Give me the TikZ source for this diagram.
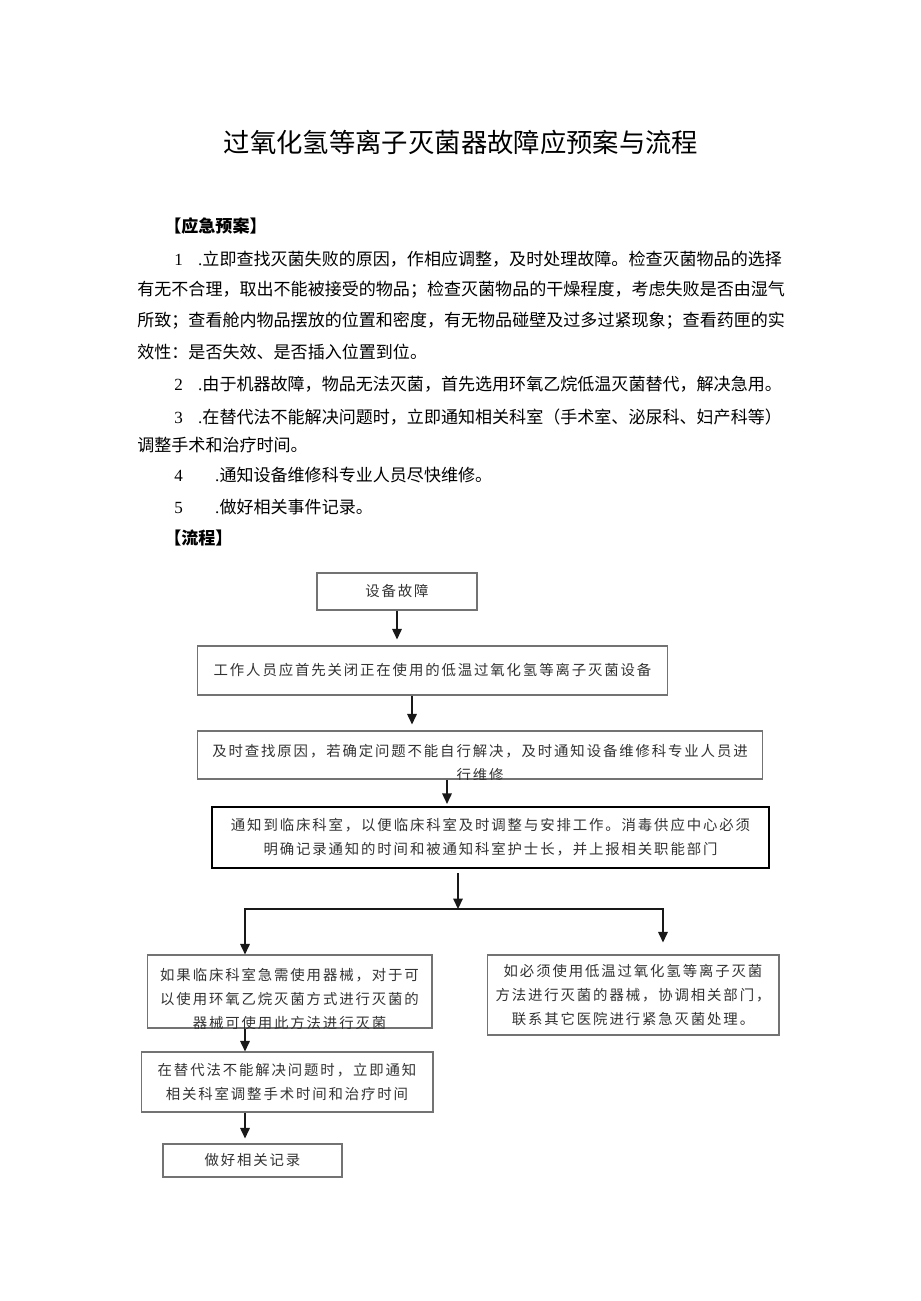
\documentclass[tikz,border=0pt]{standalone}
\usepackage{fontspec}
\setmainfont{Noto Sans CJK SC}
\newfontfamily\numfont{Liberation Serif}
\newfontfamily\flowfont[LetterSpace=13]{Noto Sans CJK SC}
\XeTeXlinebreaklocale "zh"
\XeTeXlinebreakskip=0pt plus 1pt minus 0.5pt
\usetikzlibrary{arrows.meta}

\tikzset{
  box/.style={draw=black!55, line width=0.6pt, inner sep=0pt, align=center,
    text=black!80, font=\flowfont\fontsize{8.2}{13.7}\selectfont},
  arr/.style={draw=black!90, line width=0.9pt, -{Triangle[length=0.21cm,width=0.19cm]}},
  bodyline/.style={anchor=west, inner sep=0pt, font=\fontsize{9.7}{12}\selectfont},
}

\begin{document}
\begin{tikzpicture}[x=0.02cm, y=-0.02cm]
\fill[white] (0,0) rectangle (920,1301);
\useasboundingbox (0,0) rectangle (920,1301);

% title
\node[font=\fontsize{15}{18}\selectfont] (title) at (461,142) {过氧化氢等离子灭菌器故障应预案与流程};

% plan
\node[bodyline, font=\bfseries\fontsize{9.7}{12}\selectfont] (plan) at (164,226) {【应急预案】};
\node[bodyline] (p1a) at (174,259) {\makebox[12.22cm][s]{{\numfont 1\hspace{0.9em}.}立即查找灭菌失败的原因，作相应调整，及时处理故障。检查灭菌物品的选择}};
\node[bodyline] (p1b) at (137,290) {\makebox[12.96cm][s]{有无不合理，取出不能被接受的物品；检查灭菌物品的干燥程度，考虑失败是否由湿气}};
\node[bodyline] (p1c) at (137,321) {\makebox[12.96cm][s]{所致；查看舱内物品摆放的位置和密度，有无物品碰壁及过多过紧现象；查看药匣的实}};
\node[bodyline] (p1d) at (137,352) {效性：是否失效、是否插入位置到位。};
\node[bodyline] (p2) at (174,384) {\makebox[12.08cm][s]{{\numfont 2\hspace{0.9em}.}由于机器故障，物品无法灭菌，首先选用环氧乙烷低温灭菌替代，解决急用。}};
\node[bodyline] (p3a) at (174,417) {\makebox[12.08cm][s]{{\numfont 3\hspace{0.9em}.}在替代法不能解决问题时，立即通知相关科室（手术室、泌尿科、妇产科等）}};
\node[bodyline] (p3b) at (137,445) {调整手术和治疗时间。};
\node[bodyline] (p4) at (174,475) {{\numfont 4\hspace{1.9em}.}通知设备维修科专业人员尽快维修。};
\node[bodyline] (p5) at (174,507) {{\numfont 5\hspace{1.9em}.}做好相关事件记录。};
\node[bodyline, font=\bfseries\fontsize{9.7}{12}\selectfont] (flow) at (164,538) {【流程】};

% flow chart
\node[box, minimum width=3.2cm, minimum height=0.74cm] (fault) at (397,591.5) {设备故障};
\node[box, minimum width=9.42cm, minimum height=0.98cm] (stop) at (432.5,670.5) {工作人员应首先关闭正在使用的低温过氧化氢等离子灭菌设备};
\node[box, minimum width=11.32cm, minimum height=0.96cm] (repair) at (480,755) {};
\begin{scope}
  \clip (repair.south west) rectangle (repair.north east);
  \node[box, draw=none] (repairtxt) at ([yshift=-0.16cm]repair.center) {及时查找原因，若确定问题不能自行解决，及时通知设备维修科专业人员进\\行维修};
\end{scope}
\node[box, draw=black, line width=1.2pt, minimum width=11.14cm, minimum height=1.22cm] (notify) at (490.5,837.5) {通知到临床科室，以便临床科室及时调整与安排工作。消毒供应中心必须\\明确记录通知的时间和被通知科室护士长，并上报相关职能部门};
\node[box, minimum width=5.7cm, minimum height=1.46cm] (eo) at (289.5,991.5) {};
\begin{scope}
  \clip (eo.south west) rectangle (eo.north east);
  \node[box, draw=none] (eotxt) at ([yshift=-0.15cm]eo.center) {如果临床科室急需使用器械，对于可\\以使用环氧乙烷灭菌方式进行灭菌的\\器械可使用此方法进行灭菌};
\end{scope}
\node[box, minimum width=5.84cm, minimum height=1.6cm] (other) at (633,995) {如必须使用低温过氧化氢等离子灭菌\\方法进行灭菌的器械，协调相关部门，\\联系其它医院进行紧急灭菌处理。};
\node[box, minimum width=5.84cm, minimum height=1.2cm] (adjust) at (287,1082) {在替代法不能解决问题时，立即通知\\相关科室调整手术时间和治疗时间};
\node[box, minimum width=3.58cm, minimum height=0.66cm] (record) at (252.5,1160.5) {做好相关记录};

% arrows
\draw[arr, shorten >=0.12cm] (fault.south) -- (fault.south |- stop.north);
\draw[arr, shorten >=0.12cm] ([xshift=-0.41cm]stop.south) -- ([xshift=-0.41cm]stop.south |- repair.north);
\draw[arr, shorten >=0.04cm] ([xshift=-0.66cm]repair.south) -- ([xshift=-0.66cm]repair.south |- notify.north);
\coordinate (split) at ([xshift=-0.65cm,yshift=-0.8cm]notify.south);
\draw[arr, shorten <=0.08cm] ([xshift=-0.65cm]notify.south) -- (split);
\draw[arr] (split) -| ([xshift=-0.89cm]eo.north);
\draw[arr, shorten >=0.24cm] (split) -| ([xshift=0.6cm]other.north);
\draw[arr] ([xshift=-0.89cm]eo.south) -- ([xshift=-0.89cm]eo.south |- adjust.north);
\draw[arr, shorten >=0.1cm] ([xshift=-0.84cm]adjust.south) -- ([xshift=-0.84cm]adjust.south |- record.north);
\end{tikzpicture}
\end{document}
